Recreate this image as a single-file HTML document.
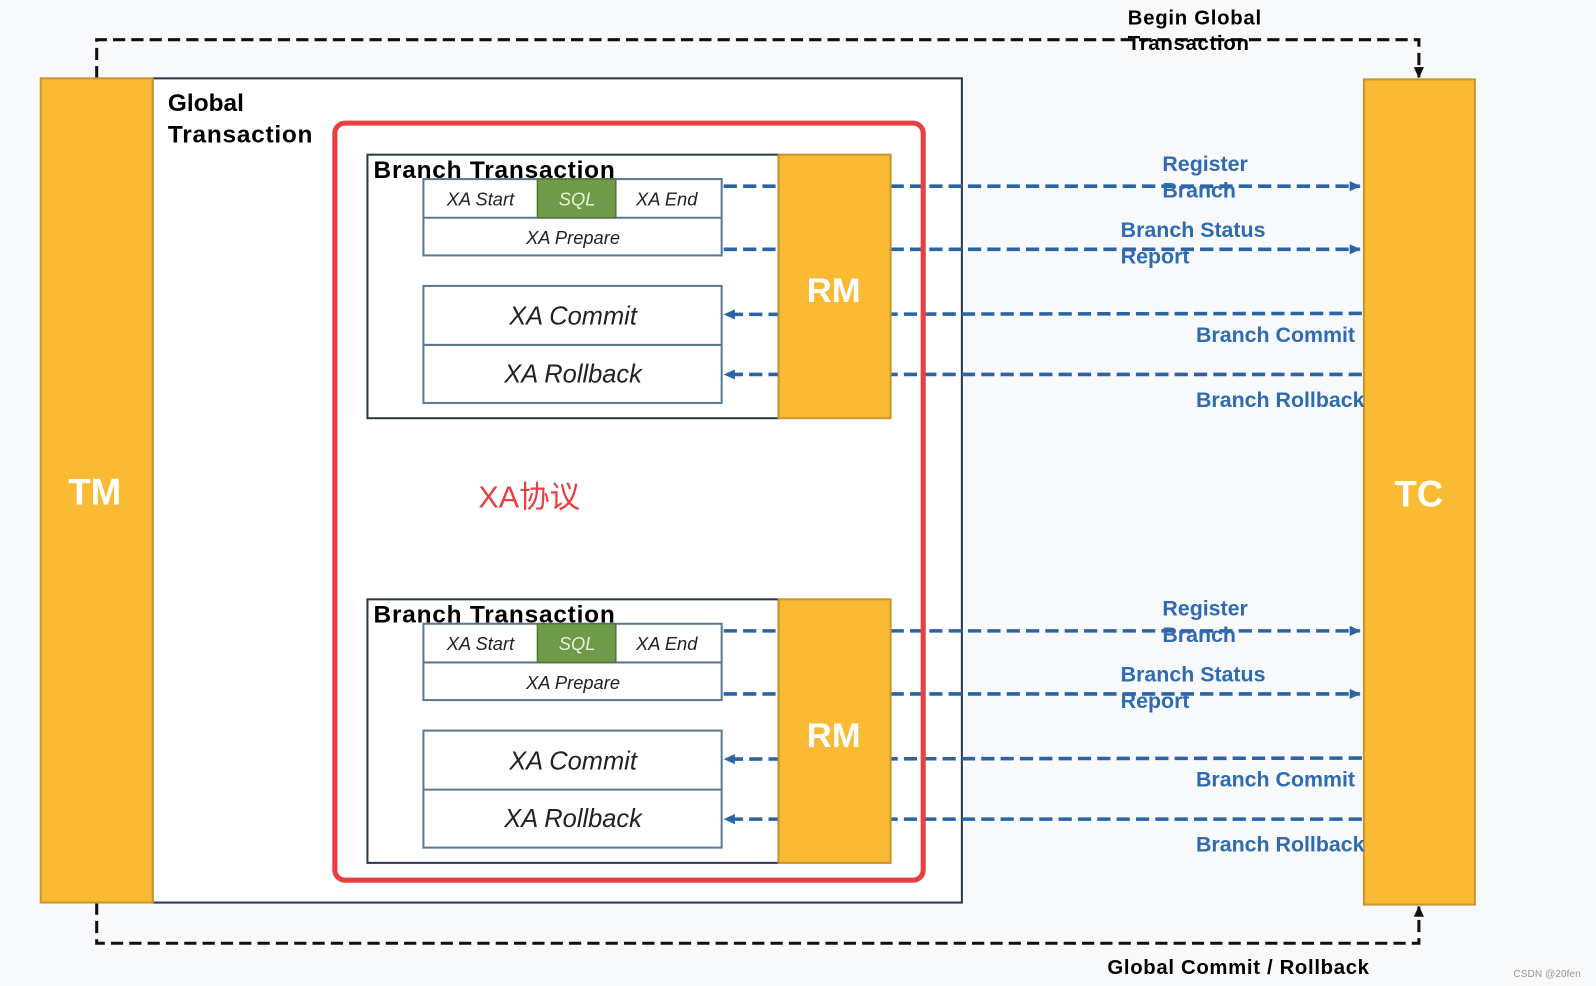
<!DOCTYPE html>
<html><head><meta charset="utf-8"><style>
html,body{margin:0;padding:0;background:#f8f9fa;}
svg{display:block;}
text{font-family:"Liberation Sans","Noto Sans CJK SC",sans-serif;}
.b{font-weight:bold;}
.bl{fill:#2f6bb0;font-weight:bold;font-size:21px;}
.it{font-style:italic;fill:#222;}
</style></head><body>
<svg width="1596" height="986" viewBox="0 0 1568 969" preserveAspectRatio="none" xmlns="http://www.w3.org/2000/svg">
<defs>
<marker id="ab" markerWidth="12" markerHeight="12" refX="10" refY="6" orient="auto" markerUnits="userSpaceOnUse"><path d="M0,1 L11,6 L0,11 z" fill="#2a64a8"/></marker>
<marker id="ak" markerWidth="12" markerHeight="12" refX="10" refY="6" orient="auto" markerUnits="userSpaceOnUse"><path d="M0,1 L11,6 L0,11 z" fill="#111"/></marker>
</defs>
<rect width="1568" height="969" fill="#f8f9fa"/>
<path d="M95,77 V39 H1394 V76" fill="none" stroke="#111" stroke-width="3" stroke-dasharray="12,6" marker-end="url(#ak)"/>
<path d="M95,887 V927 H1394 V891" fill="none" stroke="#111" stroke-width="3" stroke-dasharray="12,6" marker-end="url(#ak)"/>
<text x="1108" y="24" class="b" font-size="20" textLength="131">Begin Global</text>
<text x="1108" y="49" class="b" font-size="20" textLength="119">Transaction</text>
<text x="1088" y="957" class="b" font-size="20" textLength="257">Global Commit / Rollback</text>
<rect x="150" y="77" width="795" height="810" fill="#fff" stroke="#2a3a4a" stroke-width="2"/>
<rect x="40" y="77" width="110" height="810" fill="#fbba33" stroke="#c7962f" stroke-width="2"/>
<text x="93" y="496" text-anchor="middle" font-size="36" font-weight="bold" fill="#fff">TM</text>
<text x="165" y="109" class="b" font-size="24">Global</text>
<text x="165" y="140" class="b" font-size="24" textLength="142">Transaction</text>
<rect x="1340" y="78" width="109" height="811" fill="#fbba33" stroke="#c7962f" stroke-width="2"/>
<text x="1394" y="498" text-anchor="middle" font-size="36" font-weight="bold" fill="#fff">TC</text>

<g id="br">
<rect x="361" y="152" width="404" height="259" fill="#fff" stroke="#2a3a4a" stroke-width="2"/>
<text x="367" y="175" class="b" font-size="24" textLength="237">Branch Transaction</text>
<rect x="416" y="176" width="293" height="75" fill="#fff" stroke="#5a7a92" stroke-width="2"/>
<line x1="416" y1="214" x2="709" y2="214" stroke="#5a7a92" stroke-width="2"/>
<rect x="528" y="176" width="77" height="38" fill="#6f9a4a" stroke="#4f7a34" stroke-width="1.5"/>
<text x="472" y="202" text-anchor="middle" font-size="18" class="it">XA Start</text>
<text x="567" y="202" text-anchor="middle" font-size="18" font-style="italic" fill="#e8f0d8">SQL</text>
<text x="655" y="202" text-anchor="middle" font-size="18" class="it">XA End</text>
<text x="563" y="240" text-anchor="middle" font-size="18" class="it">XA Prepare</text>
<rect x="416" y="281" width="293" height="115" fill="#fff" stroke="#5a7a92" stroke-width="2"/>
<line x1="416" y1="339" x2="709" y2="339" stroke="#5a7a92" stroke-width="2"/>
<text x="563" y="319" text-anchor="middle" font-size="25" class="it">XA Commit</text>
<text x="563" y="376" text-anchor="middle" font-size="25" class="it">XA Rollback</text>
<g stroke="#2a64a8" stroke-width="3.5" stroke-dasharray="13,6" fill="none">
<line x1="711" y1="183" x2="765" y2="183"/>
<line x1="711" y1="245" x2="765" y2="245"/>
<line x1="875" y1="183" x2="1336" y2="183" marker-end="url(#ab)"/>
<line x1="875" y1="245" x2="1336" y2="245" marker-end="url(#ab)"/>
<line x1="1338" y1="308" x2="712" y2="309" marker-end="url(#ab)"/>
<line x1="1338" y1="368" x2="712" y2="368" marker-end="url(#ab)"/>
</g>
<rect x="765" y="152" width="110" height="259" fill="#fbba33" stroke="#c7962f" stroke-width="2"/>
<text x="819" y="297" text-anchor="middle" font-size="34" font-weight="bold" fill="#fff">RM</text>
<text x="1142" y="168" class="bl">Register</text>
<text x="1142" y="194" class="bl">Branch</text>
<text x="1101" y="233" class="bl">Branch Status</text>
<text x="1101" y="259" class="bl">Report</text>
<text x="1175" y="336" class="bl">Branch Commit</text>
<text x="1175" y="400" class="bl">Branch Rollback</text>
</g>
<use href="#br" transform="translate(0,437)"/>
<rect x="329" y="121" width="578" height="744" rx="10" fill="none" stroke="#e84040" stroke-width="5"/>
<text x="470" y="499" font-size="30" fill="#e84040">XA协议</text>
<text x="1553" y="960" text-anchor="end" font-size="10" fill="#999">CSDN @20fen</text>
</svg>
</body></html>
